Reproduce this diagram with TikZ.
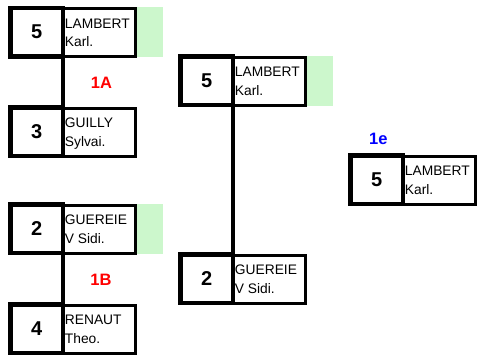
\documentclass[tikz,border=0pt]{standalone}
\usepackage{fontspec}
\setmainfont{Liberation Sans}
\definecolor{wingreen}{RGB}{204,247,204}
\definecolor{lblred}{RGB}{255,0,0}
\definecolor{lblblue}{RGB}{0,0,255}
\tikzset{
  scorebox/.style={draw=black, line width=4.5pt, minimum width=52.5pt, minimum height=48.5pt,
    inner sep=0pt, outer sep=0pt, font=\fontsize{20}{24}\selectfont\bfseries},
  namebox/.style={draw=black, line width=3pt, minimum width=72pt, minimum height=48pt,
    inner sep=0pt, outer sep=0pt},
  nametext/.style={anchor=base west, inner sep=0pt, font=\fontsize{13.8}{16}\selectfont},
  linkline/.style={draw=black, line width=4.5pt},
  winfill/.style={fill=wingreen},
  roundlbl/.style={font=\fontsize{16.5}{20}\selectfont\bfseries, inner sep=0pt}
}
\newcommand\pbox[6]{%
  \node[scorebox] (#1s) at (#2+28.5,#3+26.5) {#4};
  \node[namebox] (#1n) at (#2+91.5,#3+27) {};
  \node[nametext] (#1t) at (#2+56.4,#3+22.6) {#5};
  \node[nametext] (#1u) at (#2+56.4,#3+41) {#6};
}
\newcommand\winbar[2]{%
  \fill[winfill] (#1+129,#2+1.5) rectangle (#1+155,#2+51.5);
}
\begin{document}
\begin{tikzpicture}[x=1pt,y=-1pt]
\useasboundingbox (0,0) rectangle (483,356);
% green winner bars
\winbar{8.3}{5.7}
\winbar{8.3}{202}
\winbar{178.3}{54}
% round 1
\pbox{a}{8.3}{5.7}{5}{LAMBERT}{Karl.}
\pbox{b}{8.3}{105}{3}{GUILLY}{Sylvai.}
\pbox{c}{8.3}{202}{2}{GUEREIE}{V Sidi.}
\pbox{d}{8.3}{302}{4}{RENAUT}{Theo.}
% round 2
\pbox{e}{178.3}{54}{5}{LAMBERT}{Karl.}
\pbox{f}{178.3}{252.3}{2}{GUEREIE}{V Sidi.}
% final
\pbox{g}{348.3}{153.3}{5}{LAMBERT}{Karl.}
% connectors
\draw[linkline] (as.south east) -- (bs.north east);
\draw[linkline] (cs.south east) -- (ds.north east);
\draw[linkline] (es.south east) -- (fs.north east);
% labels
\node[roundlbl, text=lblred] (l1a) at (101.5,82.5) {1A};
\node[roundlbl, text=lblred] (l1b) at (101,280) {1B};
\node[roundlbl, text=lblblue] (l1e) at (378.3,139.2) {1e};
\end{tikzpicture}
\end{document}
